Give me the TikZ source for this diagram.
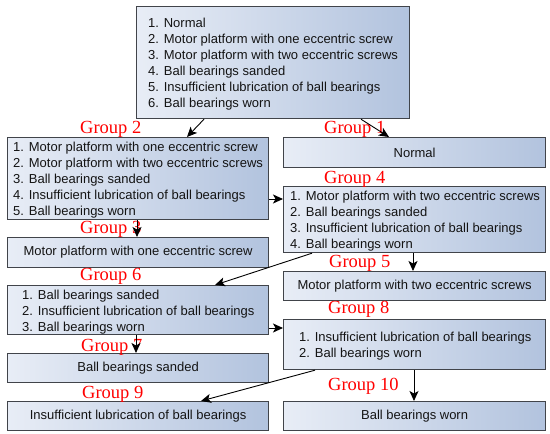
\documentclass[tikz,border=0pt]{standalone}
\usepackage{fontspec}
\setmainfont{Liberation Sans}
\newfontfamily\grpfont{Liberation Serif}
\usetikzlibrary{arrows.meta,calc}
\definecolor{boxL}{RGB}{232,237,246}
\definecolor{boxR}{RGB}{178,195,222}
\definecolor{boxline}{RGB}{65,68,74}
\definecolor{txt}{RGB}{20,20,20}
\begin{document}
\begin{tikzpicture}[x=1pt,y=-1pt,
  box/.style={draw=boxline, line width=1.2pt, left color=boxL, right color=boxR,
    inner sep=0pt, anchor=north west, text=txt, font=\fontsize{13pt}{16pt}\selectfont},
  listtext/.style={anchor=west, inner sep=0pt, align=left, text=txt,
    font=\fontsize{13pt}{16pt}\selectfont},
  grp/.style={anchor=base west, inner sep=0pt, text=red, font=\grpfont\fontsize{18.5pt}{20pt}\selectfont},
  conn/.style={-{Stealth[length=10pt,width=9pt,inset=2.5pt]}, line width=0.9pt, black}]
\useasboundingbox (0,0) rectangle (550,434);

% boxes
\node[box, minimum width=273pt, minimum height=112pt] (top) at (136,6) {};
\node[box, minimum width=261pt, minimum height=82pt] (g2) at (7,137) {};
\node[box, minimum width=262pt, minimum height=30pt] (n1) at (283,137) {Normal};
\node[box, minimum width=262pt, minimum height=66pt] (g4) at (283,186) {};
\node[box, minimum width=261pt, minimum height=30pt] (m1) at (7,237) {Motor platform with one eccentric screw};
\node[box, minimum width=262pt, minimum height=29pt] (m2) at (283,271) {Motor platform with two eccentric screws};
\node[box, minimum width=261pt, minimum height=49pt] (g6) at (7,285) {};
\node[box, minimum width=262pt, minimum height=50pt] (g8) at (283,319) {};
\node[box, minimum width=261pt, minimum height=29pt] (bs) at (7,353) {Ball bearings sanded};
\node[box, minimum width=261pt, minimum height=29pt] (il) at (7,401) {Insufficient lubrication of ball bearings};
\node[box, minimum width=262pt, minimum height=29pt] (bw) at (283,401) {Ball bearings worn};

% list texts
\node[listtext] (ttop) at (148,64.3) {1. Normal\\2. Motor platform with one eccentric screw\\3. Motor platform with two eccentric screws\\4. Ball bearings sanded\\5. Insufficient lubrication of ball bearings\\6. Ball bearings worn};
\node[listtext] (tg2) at (13,180.3) {1. Motor platform with one eccentric screw\\2. Motor platform with two eccentric screws\\3. Ball bearings sanded\\4. Insufficient lubrication of ball bearings\\5. Ball bearings worn};
\node[listtext] (tg4) at (290,221.3) {1. Motor platform with two eccentric screws\\2. Ball bearings sanded\\3. Insufficient lubrication of ball bearings\\4. Ball bearings worn};
\node[listtext] (tg6) at (22,312.3) {1. Ball bearings sanded\\2. Insufficient lubrication of ball bearings\\3. Ball bearings worn};
\node[listtext] (tg8) at (299,345.8) {1. Insufficient lubrication of ball bearings\\2. Ball bearings worn};

% group labels
\node[grp] (l2) at (80,133) {Group 2};
\node[grp] (l1) at (324,133) {Group 1};
\node[grp] (l4) at (324,183) {Group 4};
\node[grp] (l3) at (80,233) {Group 3};
\node[grp] (l5) at (329,267) {Group 5};
\node[grp] (l6) at (80,280) {Group 6};
\node[grp] (l8) at (328,313) {Group 8};
\node[grp] (l7) at (81,351) {Group 7};
\node[grp] (l10) at (328,390) {Group 10};
\node[grp] (l9) at (82,398) {Group 9};

% connectors
\draw[conn] ([xshift=68pt]top.south west) -- ([xshift=180pt]g2.north west);
\draw[conn] ([xshift=225pt]top.south west) -- ([xshift=106pt]n1.north west);
\draw[conn] ([yshift=-62pt]g2.north east) -- ([yshift=-13pt]g4.north west);
\draw[conn] ([xshift=130pt]g2.south west) -- ([xshift=130pt]m1.north west);
\draw[conn] ([xshift=29pt]g4.south west) -- ([xshift=208pt]g6.north west);
\draw[conn] ([xshift=130pt]g4.south west) -- ([xshift=130pt]m2.north west);
\draw[conn] ([yshift=-43pt]g6.north east) -- ([yshift=-9pt]g8.north west);
\draw[conn] ([xshift=129pt]g6.south west) -- ([xshift=129pt]bs.north west);
\draw[conn] ([xshift=32pt]g8.south west) -- ([xshift=194pt]il.north west);
\draw[conn] ([xshift=131pt]g8.south west) -- ([xshift=131pt]bw.north west);
\end{tikzpicture}
\end{document}
